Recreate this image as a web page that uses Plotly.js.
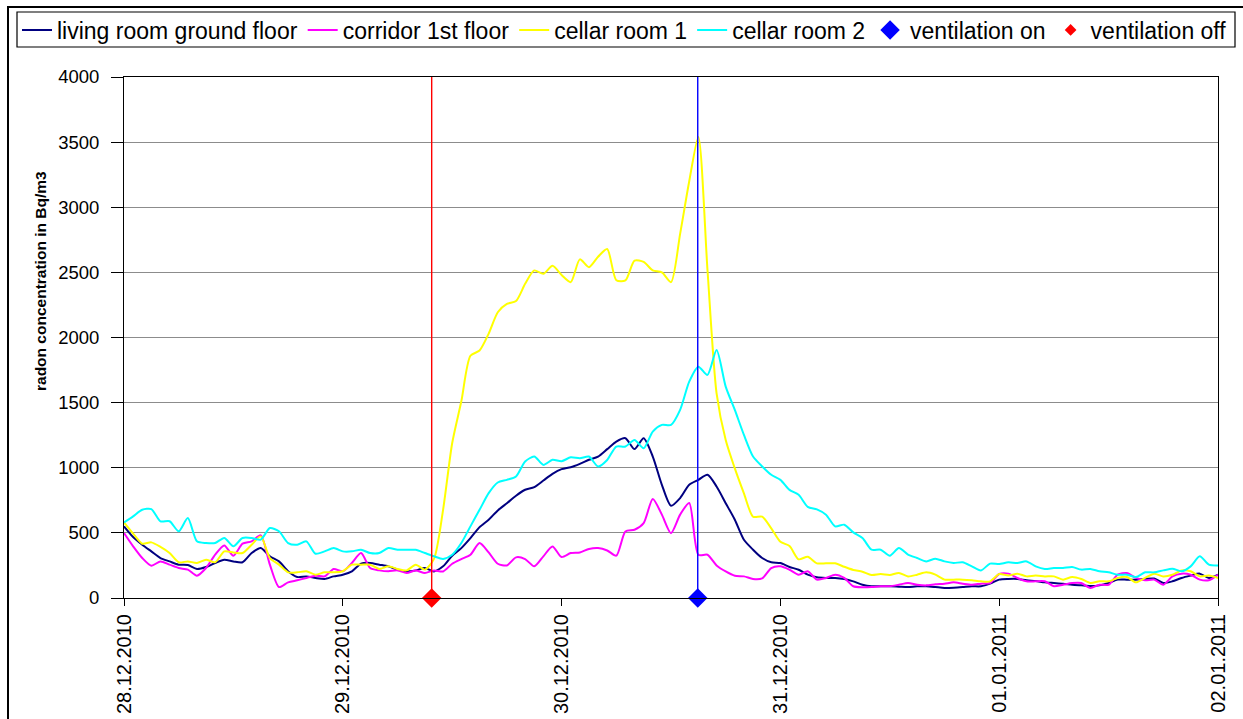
<!DOCTYPE html>
<html>
<head>
<meta charset="utf-8">
<script src="https://cdn.plot.ly/plotly-3.0.1.min.js"></script>
<style>
  html, body { margin: 0; padding: 0; background: #fff; }
  #chart { width: 1243px; height: 719px; }
</style>
</head>
<body>
<div id="chart"></div>
<script>
// hourly readings from 28.12.2010 00:00 to 02.01.2011 00:00 (Bq/m3)
const startTime = '2010-12-28T00:00:00Z';
const stepHours = 1;

const living = [
  550, 468, 409, 358, 307, 281, 256, 253, 223, 238,
  269, 294, 281, 274, 345, 384, 320, 281, 205, 161,
  166, 154, 146, 166, 179, 205, 264, 269, 256, 243,
  218, 205, 212, 230, 204, 243, 325, 383, 460, 544,
  601, 672, 728, 785, 831, 851, 902, 953, 989, 1004,
  1030, 1061, 1086, 1143, 1201, 1227, 1143, 1227, 1086, 869,
  708, 767, 869, 907, 946, 856, 728, 601, 447, 371,
  307, 274, 268, 238, 217, 179, 159, 154, 154, 146,
  128, 102, 90, 90, 90, 87, 84, 90, 90, 84,
  77, 79, 84, 90, 90, 110, 141, 146, 146, 136,
  130, 120, 115, 110, 102, 97, 92, 97, 115, 141,
  141, 141, 146, 149, 115, 128, 154, 172, 187, 154, 179
];

const corridor = [
  499, 397, 307, 248, 281, 256, 230, 218, 171, 230,
  333, 404, 325, 417, 435, 481, 256, 84, 120, 136,
  154, 171, 166, 223, 205, 269, 345, 230, 212, 205,
  212, 192, 212, 192, 212, 204, 263, 299, 332, 422,
  350, 263, 250, 312, 299, 243, 320, 396, 314, 345,
  350, 376, 383, 365, 325, 511, 524, 575, 760, 640,
  498, 640, 730, 332, 332, 250, 204, 171, 166, 146,
  151, 230, 243, 217, 179, 205, 141, 154, 179, 154,
  90, 82, 84, 90, 90, 102, 115, 102, 97, 105,
  110, 120, 110, 102, 110, 115, 184, 187, 154, 128,
  128, 128, 90, 102, 115, 115, 77, 102, 102, 179,
  192, 154, 136, 141, 102, 166, 187, 179, 141, 136, 179
];

const cellar1 = [
  580, 494, 417, 427, 392, 345, 274, 281, 269, 294,
  274, 358, 350, 345, 409, 473, 307, 256, 197, 197,
  205, 179, 197, 197, 205, 256, 256, 256, 223, 243,
  223, 212, 256, 218, 300, 677, 1190, 1510, 1860, 1900,
  2030, 2194, 2258, 2280, 2412, 2515, 2489, 2550, 2480, 2425,
  2600, 2540, 2620, 2680, 2440, 2438, 2590, 2580, 2515, 2500,
  2425, 2796, 3200, 3540, 2520, 1571, 1213, 995, 803, 624,
  624, 535, 432, 399, 297, 317, 266, 266, 266, 240,
  215, 202, 177, 184, 177, 192, 166, 179, 197, 179,
  141, 141, 141, 136, 128, 128, 184, 172, 187, 166,
  172, 166, 166, 141, 161, 146, 115, 128, 128, 154,
  161, 120, 154, 187, 166, 179, 212, 205, 166, 172, 154
];

const cellar2 = [
  580, 627, 678, 683, 589, 589, 512, 614, 435, 422,
  422, 461, 397, 461, 461, 448, 537, 512, 422, 409,
  435, 340, 358, 384, 358, 358, 371, 345, 345, 384,
  371, 370, 370, 345, 320, 300, 332, 422, 550, 677,
  805, 887, 907, 933, 1048, 1086, 1022, 1061, 1050, 1080,
  1073, 1086, 1010, 1060, 1163, 1163, 1214, 1150, 1278, 1329,
  1329, 1444, 1661, 1776, 1713, 1904, 1623, 1444, 1252, 1086,
  1010, 946, 907, 830, 792, 700, 680, 640, 550, 563,
  504, 461, 371, 371, 325, 384, 333, 307, 281, 302,
  281, 269, 274, 243, 212, 264, 261, 274, 269, 281,
  243, 223, 230, 230, 238, 218, 223, 205, 197, 179,
  179, 161, 197, 197, 212, 225, 205, 243, 320, 256, 250
];

const ventOnTime = ['2010-12-30 14:56'];
const ventOffTime = ['2010-12-29 09:45'];
const eventLevel = [0];
const eventLineTop = [4000];

const xStart = '2010-12-28';
const xEnd = '2011-01-02';
const yMax = 4000;
const yTitle = 'radon concentration in Bq/m3';

// build timestamps
const t0 = Date.parse(startTime);
const times = living.map((_, i) => t0 + i * stepHours * 3600000);

const FONT = 'Liberation Sans, Arial, sans-serif';

function seriesTrace(name, y, color) {
  return {
    type: 'scatter', mode: 'lines', name: name,
    x: times, y: y,
    line: { color: color, width: 2, shape: 'spline', smoothing: 0.7 },
    hoverinfo: 'x+y+name'
  };
}

const traces = [
  seriesTrace('living room ground floor', living, '#000080'),
  seriesTrace('corridor 1st floor', corridor, '#FF00FF'),
  seriesTrace('cellar room 1', cellar1, '#FFFF00'),
  seriesTrace('cellar room 2', cellar2, '#00FFFF'),
  {
    type: 'scatter', mode: 'markers', name: 'ventilation on',
    x: ventOnTime, y: eventLevel, cliponaxis: false,
    marker: { symbol: 'diamond', size: 15, color: '#0000FF' },
    error_y: { type: 'data', symmetric: false, array: eventLineTop, arrayminus: [0],
               width: 0, thickness: 1.4, color: '#0000FF' }
  },
  {
    type: 'scatter', mode: 'markers', name: 'ventilation off', showlegend: false,
    x: ventOffTime, y: eventLevel, cliponaxis: false,
    marker: { symbol: 'diamond', size: 15, color: '#FF0000' },
    error_y: { type: 'data', symmetric: false, array: eventLineTop, arrayminus: [0],
               width: 0, thickness: 1.4, color: '#FF0000' }
  },
  {
    type: 'scatter', mode: 'markers', name: 'ventilation off',
    x: ventOffTime, y: [null],
    marker: { symbol: 'diamond', size: 9, color: '#FF0000' }
  }
];

const L = 124, R = 25, T = 77, B = 121, W = 1243, H = 719;
const pw = W - L - R, ph = H - T - B;
const px = v => (v - L) / pw;
const py = v => (H - B - v) / ph;

const layout = {
  width: W, height: H,
  margin: { l: L, r: R, t: T, b: B, pad: 0, autoexpand: false },
  paper_bgcolor: '#ffffff', plot_bgcolor: '#ffffff',
  font: { family: FONT, color: '#000000', size: 18 },
  showlegend: true,
  legend: {
    orientation: 'h', x: px(17), y: py(30), xanchor: 'left', yanchor: 'middle',
    borderwidth: 0, bgcolor: 'rgba(0,0,0,0)',
    font: { family: FONT, size: 23, color: '#000000' },
    traceorder: 'normal'
  },
  xaxis: {
    type: 'date', range: [xStart, xEnd],
    tickformat: '%d.%m.%Y', dtick: 86400000, tick0: xStart,
    tickangle: -90, automargin: false,
    ticks: 'outside', ticklen: 7, tickcolor: '#000', tickwidth: 1,
    showline: true, linecolor: '#000', linewidth: 1, mirror: true,
    showgrid: false, zeroline: false,
    tickfont: { family: FONT, size: 20, color: '#000' }
  },
  yaxis: {
    range: [0, yMax], dtick: 500, tick0: 0, automargin: false,
    ticks: 'outside', ticklen: 12, tickcolor: '#000', tickwidth: 1,
    ticklabelstandoff: 8,
    showline: true, linecolor: '#000', linewidth: 1, mirror: true,
    showgrid: true, gridcolor: '#8c8c8c', gridwidth: 1,
    zeroline: false,
    tickfont: { family: FONT, size: 18.5, color: '#000' }
  },
  annotations: [
    { text: yTitle, xref: 'paper', yref: 'paper', x: px(40), y: py(281),
      xanchor: 'center', yanchor: 'middle', textangle: -90, showarrow: false,
      font: { family: FONT, size: 15.5, weight: 'bold', color: '#000' } }
  ],
  shapes: [
    { type: 'rect', xref: 'paper', yref: 'paper',
      x0: px(8), x1: px(1260), y0: py(740), y1: py(7),
      line: { color: '#000', width: 2 }, fillcolor: 'rgba(0,0,0,0)', layer: 'below' },
    { type: 'rect', xref: 'paper', yref: 'paper',
      x0: px(17), x1: px(1235), y0: py(47), y1: py(12),
      line: { color: '#000', width: 1.2 }, fillcolor: 'rgba(0,0,0,0)', layer: 'below' }
  ]
};

Plotly.newPlot('chart', traces, layout, { displayModeBar: false, staticPlot: true });
</script>
</body>
</html>
